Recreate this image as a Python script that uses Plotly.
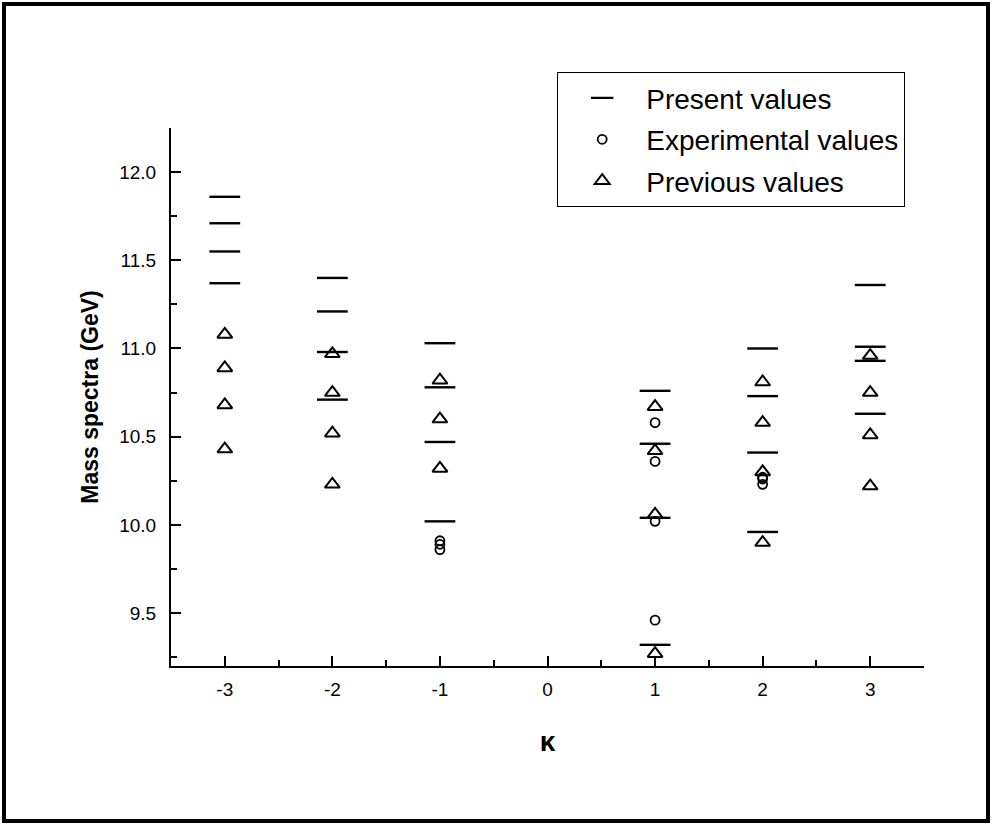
import plotly.graph_objects as go

# ---- data ----
present_kappa = [-3, -3, -3, -3, -2, -2, -2, -2, -1, -1, -1, -1, 1, 1, 1, 1, 2, 2, 2, 2, 3, 3, 3, 3]
present_mass = [11.86, 11.71, 11.55, 11.37,
                11.40, 11.21, 10.98, 10.71,
                11.03, 10.78, 10.47, 10.02,
                10.76, 10.46, 10.04, 9.32,
                11.00, 10.73, 10.41, 9.96,
                11.36, 11.01, 10.93, 10.63]

experimental_kappa = [-1, -1, -1, 1, 1, 1, 1, 2, 2, 2]
experimental_mass = [9.86, 9.89, 9.91,
                     9.46, 10.02, 10.36, 10.58,
                     10.23, 10.26, 10.27]

previous_kappa = [-3, -3, -3, -3, -2, -2, -2, -2, -1, -1, -1, 1, 1, 1, 1, 2, 2, 2, 2, 3, 3, 3, 3]
previous_mass = [11.08, 10.89, 10.68, 10.43,
                 10.97, 10.75, 10.52, 10.23,
                 10.82, 10.60, 10.32,
                 10.67, 10.42, 10.06, 9.27,
                 10.81, 10.58, 10.30, 9.90,
                 10.96, 10.75, 10.51, 10.22]

x_ticks = [-3, -2, -1, 0, 1, 2, 3]
x_ticklabels = ["-3", "-2", "-1", "0", "1", "2", "3"]
y_ticks = [9.5, 10.0, 10.5, 11.0, 11.5, 12.0]
y_ticklabels = ["9.5", "10.0", "10.5", "11.0", "11.5", "12.0"]

# ---- figure ----
W, H = 992, 826
ML, MR, MT, MB = 171, 68, 128, 160
PW, PH = W - ML - MR, H - MT - MB
FONT = "Liberation Sans, Arial, Helvetica, sans-serif"

fig = go.Figure()
fig.add_trace(go.Scatter(
    x=present_kappa, y=present_mass, mode="markers", name="Present values",
    legendgroup="a",
    marker=dict(symbol="line-ew", size=22, line=dict(color="black", width=2.4), color="black"),
))
fig.add_trace(go.Scatter(
    x=experimental_kappa, y=experimental_mass, mode="markers", name="Experimental values",
    legendgroup="b",
    marker=dict(symbol="circle-open", size=9, color="black", line=dict(color="black", width=1.8)),
))
fig.add_trace(go.Scatter(
    x=previous_kappa, y=previous_mass, mode="markers", name="Previous values",
    legendgroup="c",
    marker=dict(symbol="triangle-up-open", size=13, color="black", line=dict(color="black", width=2)),
))

def px_x(p):
    return (p - ML) / PW

def px_y(q):
    return (H - MB - q) / PH

fig.update_layout(
    width=W, height=H,
    margin=dict(l=ML, r=MR, t=MT, b=MB, pad=0),
    paper_bgcolor="white", plot_bgcolor="white",
    font=dict(family=FONT, color="black", size=19),
    showlegend=True,
    legend=dict(
        x=px_x(557), y=px_y(72), xanchor="left", yanchor="top",
        bordercolor="black", borderwidth=1.2, bgcolor="white",
        font=dict(size=28, family=FONT, color="black"),
        tracegroupgap=2, itemwidth=78,
    ),
    shapes=[dict(
        type="rect", xref="paper", yref="paper",
        x0=px_x(4), x1=px_x(988), y0=px_y(821), y1=px_y(4),
        line=dict(color="black", width=4),
    )],
)

fig.update_xaxes(
    range=[-3.5, 3.5], tickmode="array", tickvals=x_ticks, ticktext=x_ticklabels,
    showgrid=False, zeroline=False, showline=True, linecolor="black", linewidth=2,
    ticks="inside", ticklen=10, tickwidth=1.5, tickcolor="black",
    minor=dict(dtick=0.5, tick0=-3.5, ticks="inside", ticklen=6, tickwidth=1.5, tickcolor="black"),
    ticklabelstandoff=5,
    title=dict(text="<b>κ</b>", font=dict(size=28, family=FONT), standoff=33),
)
fig.update_yaxes(
    range=[9.2, 12.25], tickmode="array", tickvals=y_ticks, ticktext=y_ticklabels,
    showgrid=False, zeroline=False, showline=True, linecolor="black", linewidth=2,
    ticks="inside", ticklen=10, tickwidth=1.5, tickcolor="black",
    minor=dict(dtick=0.25, tick0=9.25, ticks="inside", ticklen=6, tickwidth=1.5, tickcolor="black"),
    ticklabelstandoff=9,
    title=dict(text="<b>Mass spectra (GeV)</b>", font=dict(size=23, family=FONT), standoff=14),
)

fig.write_html("out.html", config={"displayModeBar": False},
               post_script="document.body.style.margin='0';document.body.style.padding='0';")
